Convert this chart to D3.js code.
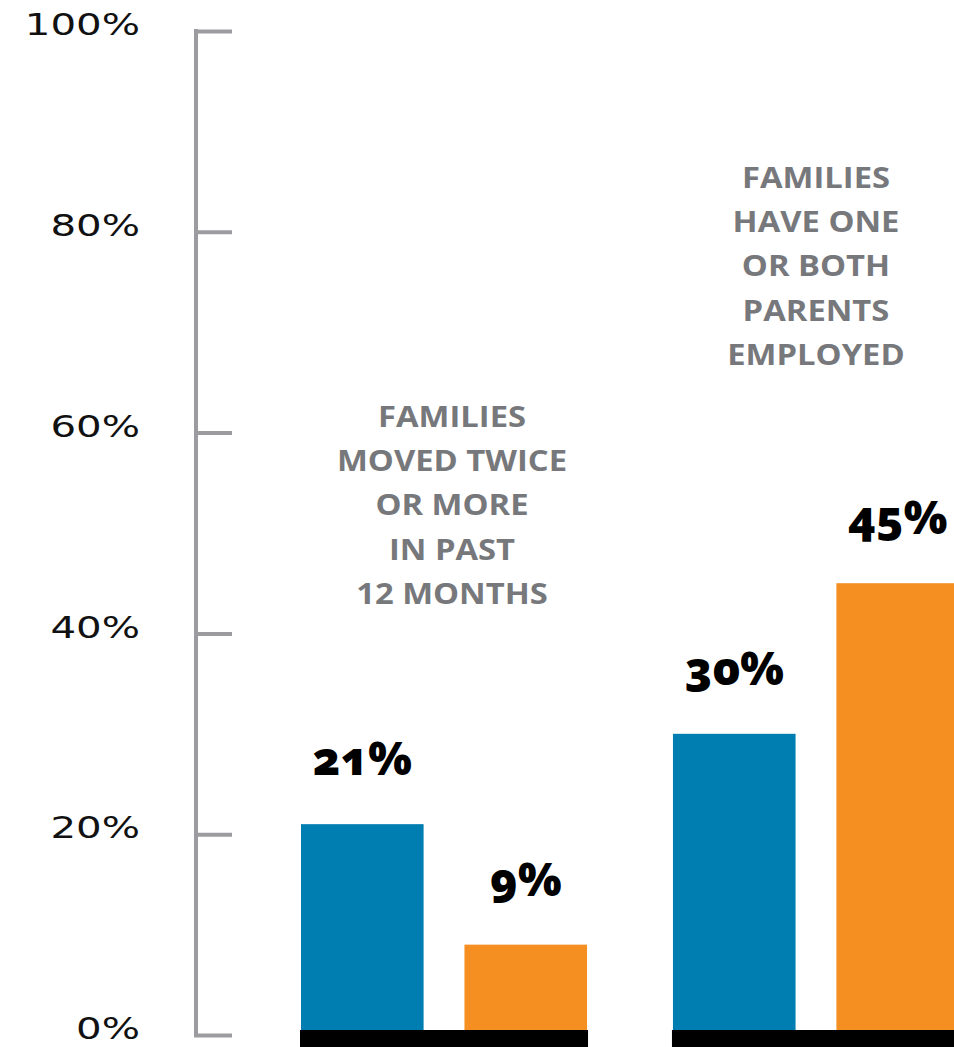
<!DOCTYPE html>
<html>
<head>
<meta charset="utf-8">
<script src="https://cdn.jsdelivr.net/npm/d3@7"></script>
<style>
  html, body { margin: 0; padding: 0; background: #ffffff; }
  svg { display: block; }
</style>
</head>
<body>
<svg id="chart" width="954" height="1047"></svg>
<script>
// Chart data
const groups = ["moved", "employed"];
const series = ["blue", "orange"];
const blueValues = [21, 30];
const orangeValues = [9, 45];
const valueLabels = [["21%", "9%"], ["30%", "45%"]];
const tickValues = [0, 20, 40, 60, 80, 100];
const tickLabels = ["0%", "20%", "40%", "60%", "80%", "100%"];
const notes = [
  ["FAMILIES", "MOVED TWICE", "OR MORE", "IN PAST", "12 MONTHS"],
  ["FAMILIES", "HAVE ONE", "OR BOTH", "PARENTS", "EMPLOYED"]
];

const colors = { blue: "#007db1", orange: "#f58f21" };
const axisGrey = "#9c9ca0";

const svg = d3.select("#chart");

const y = d3.scaleLinear().domain([0, 100]).range([1035, 31]);

const x0 = d3.scaleBand().domain(groups).range([301, 959]).paddingInner(0.231).paddingOuter(0);
const x1 = d3.scaleBand().domain(series).range([0, x0.bandwidth()]).paddingInner(0.25).paddingOuter(0);

// Stretch a text element horizontally by a factor of its natural width
function widen(sel, factor) {
  sel.each(function () {
    const w = this.getComputedTextLength();
    d3.select(this).attr("textLength", w * factor).attr("lengthAdjust", "spacingAndGlyphs");
  });
}

// Axis: vertical rule with ticks pointing right, labels to the left
const axis = d3.axisLeft(y)
  .tickValues(tickValues)
  .tickFormat((d, i) => tickLabels[i])
  .tickSizeInner(-36)
  .tickSizeOuter(0)
  .tickPadding(56);

const axisG = svg.append("g").attr("transform", "translate(196,0)").call(axis);
axisG.select(".domain").attr("stroke", axisGrey).attr("stroke-width", 4)
  .attr("d", `M0,${y(100) - 2}V${y(0) + 2}`);
axisG.selectAll(".tick line").attr("stroke", axisGrey).attr("stroke-width", 4).attr("x1", -2);
axisG.selectAll(".tick text")
  .attr("fill", "#111")
  .attr("font-family", "'DejaVu Sans', sans-serif")
  .attr("font-weight", 400)
  .attr("font-size", 31)
  .attr("dy", "0.12em")
  .call(widen, 1.3);

// Bars
const rows = groups.map((g, i) => ({
  group: g,
  values: [
    { key: "blue", value: blueValues[i], label: valueLabels[i][0] },
    { key: "orange", value: orangeValues[i], label: valueLabels[i][1] }
  ]
}));

const gGroups = svg.selectAll("g.group").data(rows).join("g")
  .attr("class", "group")
  .attr("transform", d => `translate(${x0(d.group)},0)`);

gGroups.selectAll("rect.bar").data(d => d.values).join("rect")
  .attr("class", "bar")
  .attr("x", d => x1(d.key))
  .attr("width", x1.bandwidth())
  .attr("y", d => y(d.value))
  .attr("height", d => y(0) - y(d.value))
  .attr("fill", d => colors[d.key]);

// Black base under each pair of bars
gGroups.append("rect")
  .attr("x", -1)
  .attr("width", x0.bandwidth() + 2)
  .attr("y", y(0) - 5)
  .attr("height", 20)
  .attr("fill", "#000");

// Value labels
gGroups.selectAll("text.value").data(d => d.values).join("text")
  .attr("class", "value")
  .attr("x", d => x1(d.key) + x1.bandwidth() / 2)
  .attr("y", d => y(d.value) - 49)
  .attr("text-anchor", "middle")
  .attr("font-family", "'Noto Sans', Lato, sans-serif")
  .attr("font-weight", 900)
  .attr("font-size", 46)
  .style("font-variant-numeric", "oldstyle-nums")
  .attr("fill", "#000")
  .text(d => d.label);

// Category notes
const noteAnchors = [
  { cx: 452, top: y(60.6) },
  { cx: 816, top: y(84.4) }
];
notes.forEach((lines, i) => {
  svg.append("g").selectAll("text").data(lines).join("text")
    .attr("x", noteAnchors[i].cx)
    .attr("y", (d, j) => noteAnchors[i].top + j * 44.4)
    .attr("text-anchor", "middle")
    .attr("font-family", "'Open Sans', 'Noto Sans', sans-serif")
    .attr("font-weight", 700)
    .attr("font-size", 28)
    .attr("fill", "#77787b")
    .text(d => d)
    .call(widen, 1.17);
});
</script>
</body>
</html>
